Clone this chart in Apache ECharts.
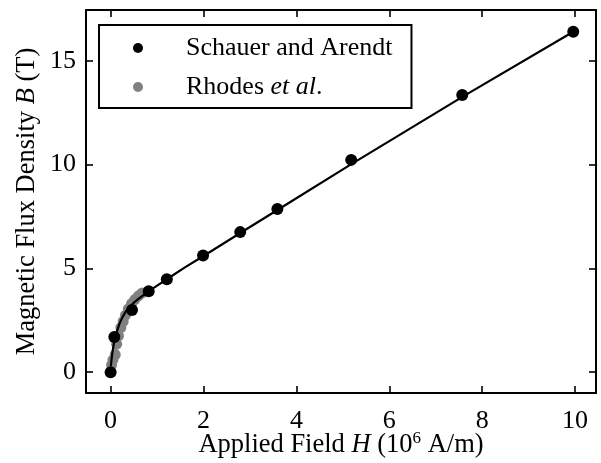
<!DOCTYPE html>
<html>
<head>
<meta charset="utf-8">
<script src="https://cdn.jsdelivr.net/npm/echarts@6/dist/echarts.min.js"></script>
<style>html,body{margin:0;padding:0;background:#fff;}#c{width:601px;height:463px;}</style>
</head>
<body>
<div id="c"></div>
<script>
const seriesNames = ['Schauer and Arendt', 'Rhodes et al.'];
const schauerH = [0, 0.08, 0.46, 0.82, 1.21, 1.99, 2.79, 3.59, 5.18, 7.57, 9.96];
const schauerB = [0, 1.7, 3.0, 3.9, 4.48, 5.62, 6.75, 7.86, 10.23, 13.36, 16.4];
const rhodesH = [0.02, 0.05, 0.1, 0.13, 0.17, 0.22, 0.27, 0.32, 0.38, 0.45, 0.52, 0.6, 0.68];
const rhodesB = [0.35, 0.6, 0.85, 1.35, 1.75, 2.15, 2.45, 2.75, 3.05, 3.3, 3.5, 3.68, 3.82];
const fitH = [0.005, 0.02, 0.04, 0.07, 0.1, 0.14, 0.19, 0.25, 0.32, 0.4, 0.5, 0.62, 0.76, 0.92, 1.1, 1.3, 1.6, 2.0, 2.8, 3.6, 5.2, 7.6, 9.96];
const fitB = [0.3, 0.62, 0.98, 1.38, 1.68, 2.0, 2.33, 2.63, 2.9, 3.12, 3.35, 3.57, 3.8, 4.05, 4.32, 4.61, 5.05, 5.6, 6.72, 7.83, 10.05, 13.3, 16.4];
const xTicks = [0, 2, 4, 6, 8, 10];
const yTicks = [0, 5, 10, 15];

const FONT = 'Liberation Serif';
const FS = 26;
const pair = (a, b) => a.map((v, i) => [v, b[i]]);

const xMin = -0.53, xMax = 10.45, yMin = -1, yMax = 17.45;
const tickStyle = {show: true, inside: true, length: 7, lineStyle: {color: '#000', width: 1.6}};
const lineStyleAx = {show: true, onZero: false, lineStyle: {color: '#000', width: 2}};

const richBase = {
  n: {fontFamily: FONT, fontSize: FS, color: '#000'},
  i: {fontFamily: FONT, fontSize: FS, color: '#000', fontStyle: 'italic'},
  sp: {width: 38}
};
const richTitle = {
  n: {fontFamily: FONT, fontSize: 26.5, color: '#000', lineHeight: 30},
  i: {fontFamily: FONT, fontSize: 26.5, color: '#000', fontStyle: 'italic', lineHeight: 30},
  s: {fontFamily: FONT, fontSize: 17, color: '#000', verticalAlign: 'top', lineHeight: 12}
};

const chart = echarts.init(document.getElementById('c'), null, {renderer: 'canvas'});
chart.setOption({
  animation: false,
  backgroundColor: '#fff',
  grid: {left: 86, right: 5, top: 10, bottom: 70, containLabel: false, outerBoundsMode: 'none'},
  legend: {
    data: seriesNames,
    orient: 'vertical',
    left: 99, top: 25,
    padding: [8, 19, 6, 34],
    itemGap: 9,
    itemWidth: 10, itemHeight: 10,
    icon: 'circle',
    borderColor: '#000', borderWidth: 2, borderRadius: 0,
    backgroundColor: '#fff',
    textStyle: {fontFamily: FONT, fontSize: FS, color: '#000', lineHeight: 30, rich: richBase},
    formatter: function (name) {
      if (name === seriesNames[0]) return '{sp|}{n|Schauer and Arendt}';
      return '{sp|}{n|Rhodes }{i|et al}{n|.}';
    }
  },
  xAxis: [{
    type: 'value', min: xMin, max: xMax, position: 'bottom',
    axisLine: lineStyleAx,
    axisTick: Object.assign({customValues: xTicks}, tickStyle),
    axisLabel: {customValues: xTicks, fontFamily: FONT, fontSize: FS, color: '#000', margin: 15},
    splitLine: {show: false},
    name: '{n|Applied Field }{i|H}{n| (10}{s|6}{n| A/m)}',
    nameLocation: 'middle', nameGap: 37, nameMoveOverlap: false,
    nameTextStyle: {rich: richTitle}
  }, {
    type: 'value', min: xMin, max: xMax, position: 'top',
    axisLine: lineStyleAx,
    axisTick: Object.assign({customValues: xTicks}, tickStyle),
    axisLabel: {show: false},
    splitLine: {show: false}
  }],
  yAxis: [{
    type: 'value', min: yMin, max: yMax, position: 'left',
    axisLine: lineStyleAx,
    axisTick: Object.assign({customValues: yTicks}, tickStyle),
    axisLabel: {customValues: yTicks, fontFamily: FONT, fontSize: FS, color: '#000', margin: 10},
    splitLine: {show: false},
    name: '{n|Magnetic Flux Density }{i|B}{n| (T)}',
    nameLocation: 'middle', nameGap: 44, nameRotate: 90, nameMoveOverlap: false,
    nameTextStyle: {rich: richTitle}
  }, {
    type: 'value', min: yMin, max: yMax, position: 'right',
    axisLine: lineStyleAx,
    axisTick: Object.assign({customValues: yTicks}, tickStyle),
    axisLabel: {show: false},
    splitLine: {show: false}
  }],
  series: [{
    name: seriesNames[1], type: 'scatter', z: 2,
    symbolSize: 11, itemStyle: {color: '#808080', opacity: 1},
    data: pair(rhodesH, rhodesB)
  }, {
    name: 'fit', type: 'line', z: 3, smooth: false,
    showSymbol: false, symbol: 'none',
    lineStyle: {color: '#000', width: 2.2},
    data: pair(fitH, fitB)
  }, {
    name: seriesNames[0], type: 'scatter', z: 4,
    symbolSize: 12, itemStyle: {color: '#000', opacity: 1},
    data: pair(schauerH, schauerB)
  }]
});
</script>
</body>
</html>
